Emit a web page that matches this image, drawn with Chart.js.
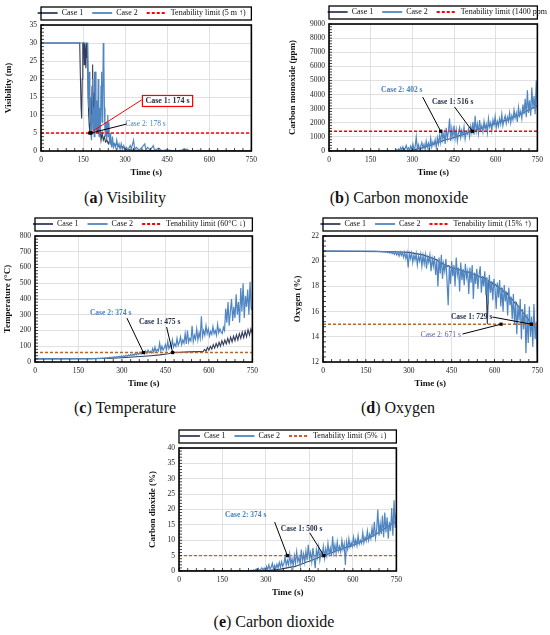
<!DOCTYPE html>
<html><head><meta charset="utf-8">
<script src="https://cdn.jsdelivr.net/npm/chart.js@4.4.1/dist/chart.umd.min.js"></script>
<style>
html,body{margin:0;padding:0;background:#fff;}
#wrap{position:relative;width:550px;height:635px;overflow:hidden;background:#fff;}
canvas{position:absolute;}
.cap{position:absolute;font-family:'Liberation Serif',serif;font-size:16px;color:#111;white-space:nowrap;transform:translate(-50%,-50%);}
</style></head><body>
<div id="wrap">
<canvas id="cA" width="262" height="181" style="left:0px;top:0px;width:262px;height:181px"></canvas>
<canvas id="cB" width="263" height="182" style="left:285px;top:-1px;width:263px;height:182px"></canvas>
<canvas id="cC" width="263" height="181" style="left:0px;top:211px;width:263px;height:181px"></canvas>
<canvas id="cD" width="263" height="181" style="left:285px;top:211px;width:263px;height:181px"></canvas>
<canvas id="cE" width="267" height="178" style="left:140px;top:423px;width:267px;height:178px"></canvas>
<div class="cap" style="left:125px;top:198px">(<b>a</b>) Visibility</div>
<div class="cap" style="left:399px;top:198px">(<b>b</b>) Carbon monoxide</div>
<div class="cap" style="left:125px;top:408px">(<b>c</b>) Temperature</div>
<div class="cap" style="left:398px;top:408px">(<b>d</b>) Oxygen</div>
<div class="cap" style="left:274px;top:622px">(<b>e</b>) Carbon dioxide</div>
</div>
<script>
// ---------- tick labels ----------
const timeTicks = [0,150,300,450,600,750];
const visTicks = [0,5,10,15,20,25,30,35];
const coTicks = [0,1000,2000,3000,4000,5000,6000,7000,8000,9000];
const tempTicks = [0,100,200,300,400,500,600,700,800];
const o2Ticks = [12,14,16,18,20,22];
const co2Ticks = [0,5,10,15,20,25,30,35,40];

// ---------- tenability limits ----------
const limitVis = 5, limitCO = 1400, limitTemp = 60, limitO2 = 15, limitCO2 = 5;

// ---------- (a) Visibility (m) ----------
const visCase1T = [0,138,140,143,145,147,149,152,154,156,158,160,162,164,166,168,170,172,174,176,178,180,182,184,186,188,190,192,194,196,198,200,202,205,208,211,214,218,222,226,230,235,240,245,250,255,260,270,280,290,300,320,350,400,450,750];
const visCase1  = [30,30,22,12,9,20,30,30,24,30,28,23,30,26,30,15,10,7,5,8,14,10,18,24,12,8,16,22,10,6,12,9,5,8,4,6,3,5,3,4,2.5,3,2,3,2,2.5,1.5,2,1,1.2,0.5,0.3,0.2,0.1,0,0];
const visCase2T = [0,166,168,170,172,174,176,178,180,182,184,186,188,190,192,194,196,198,200,202,204,206,208,210,212,214,216,218,220,222,224,226,228,230,232,234,236,238,240,242,244,246,248,250,252,255,258,262,266,270,274,278,282,286,290,295,300,305,310,318,322,330,334,340,350,360,370,374,380,390,400,405,420,430,450,480,520,530,560,600,650,700,750];
const visCase2  = [30,30,18,12,22,8,15,5,3,10,20,6,12,4,15,22,8,5,14,6,20,9,4,12,6,18,22,8,12,30,25,12,6,4,8,3,7,10,4,8,3,2,5,2,1,4,1,2,1,3,1,2,0.5,2,0.5,1.5,0.5,1,0.3,1.5,0.5,3,0.5,1,0.3,1,2,0.3,1,0.3,1.5,0.2,0.8,0.1,0.3,0,0.5,0,0.2,0,0.1,0,0];

// ---------- (b) Carbon monoxide (ppm) ----------
const coCase1T = [0,280,300,320,340,360,380,400,420,440,460,480,500,516,540,560,580,600,620,640,660,680,700,720,740,750];
const coCase1  = [0,0,60,150,250,380,520,650,800,880,1020,1150,1290,1400,1550,1700,1820,1950,2080,2200,2380,2500,2720,2900,3120,3200];
const coCase2LeadT = [0,234], coCase2Lead = [0,0];
const coCase2Start = 238, coCase2Step = 4;
const coCase2 = [
 20,80,10,150,40,250,60,300,30,180,400,90,220,50,350,
 120,500,80,300,1000,150,450,60,350,600,200,480,100,
 700,250,550,150,900,300,650,420,800,250,950,500,1100,
 600,1500,800,1300,500,1650,900,1400,2300,700,1600,1000,1800,
 900,1500,700,1300,1650,950,1450,1100,1700,850,1350,1200,1550,
 1000,1750,1300,2050,1150,2500,1400,1900,1250,2200,1500,1800,1350,
 2100,1550,1900,1300,2300,1700,2000,1450,2200,1850,2450,1650,2100,
 1750,2300,1900,2600,1800,2200,2500,1950,2400,2100,2700,2000,2500,
 2200,2900,2350,2700,2050,3100,2500,2800,2300,3300,2600,3700,2400,
 4300,2700,3600,2500,4500,3000,3900,2600,5000,2900];

// ---------- (c) Temperature (°C) ----------
const tempCase1LeadT = [0,250,300,350,400,430,460,475,500,530,560];
const tempCase1Lead  = [20,22,27,33,40,45,52,60,62,64,66];
const tempCase1Start = 580, tempCase1Step = 5;
const tempCase1 = [66,80,68,92,75,100,82,110,88,118,95,125,100,135,108,140,115,150,120,158,128,165,135,172,140,180,150,190,155,195,160,205,170,210,180];
const tempCase2LeadT = [0,194], tempCase2Lead = [20,20];
const tempCase2Start = 198, tempCase2Step = 4;
const tempCase2 = [
 20,22,21,23,22,24,22,25,23,26,24,27,25,28,26,30,27,31,28,33,29,35,30,36,32,
 38,33,40,35,42,36,45,38,48,40,50,42,55,
 45,58,48,62,50,55,65,52,70,56,75,58,68,
 60,85,62,95,66,80,70,120,72,100,75,90,110,
 78,130,85,105,90,140,95,115,100,150,105,125,160,
 110,140,120,180,115,200,125,150,135,230,130,170,145,
 210,140,185,150,290,160,200,170,230,180,210,165,195,
 175,225,180,200,170,240,185,210,190,180,220,200,340,
 250,380,230,320,400,260,350,280,430,300,380,250,470,
 320,500,280,420,350,460,300,510,340,330];

// ---------- (d) Oxygen (%) ----------
const o2Case1LeadT = [0,250,300,350,400], o2Case1Lead = [20.8,20.75,20.7,20.5,20.1];
const o2Case1Start = 405, o2Case1Step = 5;
const o2Case1 = [
 19.95,19.85,19.9,19.75,19.7,19.75,19.6,19.65,19.5,19.55,
 19.4,19.45,19.35,19.4,19.3,19.35,19.2,19.25,19.15,19.2,
 19.1,19.15,19.0,19.1,18.95,19.0,18.85,18.9,18.75,18.8,
 18.7,18.75,18.55,18.65,15.0,18.45,18.3,18.35,18.15,18.2,
 18.1,17.95,18.0,17.8,17.85,17.6,17.65,17.4,17.45,17.2,
 17.1,17.0,16.9,16.7,16.75,16.5,16.4,16.2,16.1,15.9,
 15.8,15.6,15.5,15.3,15.1,15.0,14.9,14.8,14.7,14.6];
const o2Case2LeadT = [0,178], o2Case2Lead = [20.8,20.8];
const o2Case2Start = 182, o2Case2Step = 4;
const o2Case2 = [
 20.8,20.78,20.8,20.76,20.79,20.74,20.78,20.72,20.77,20.7,20.76,20.68,20.75,20.65,20.74,20.6,20.72,
 20.55,20.75,20.5,20.7,20.4,20.72,20.45,20.68,20.3,20.7,20.2,20.65,19.5,
 20.6,20.2,20.65,19.9,20.5,20.1,20.6,19.7,20.4,20.0,20.55,19.6,20.45,
 19.8,20.5,19.4,20.3,19.9,20.5,19.2,20.2,19.6,20.4,18.9,20.1,18.0,
 20.3,19.0,20.5,18.6,19.8,19.2,20.2,18.4,16.5,19.6,18.2,20.0,18.8,
 19.7,18.0,20.3,18.9,19.5,17.6,19.9,18.5,19.4,18.1,19.8,18.7,19.2,
 17.4,19.5,18.3,19.7,17.0,19.1,18.2,19.4,17.8,18.9,19.6,17.5,18.8,
 18.0,19.2,17.3,18.7,16.6,18.9,17.5,18.4,16.9,18.6,17.8,16.2,18.3,
 17.1,18.5,16.4,17.9,16.0,18.1,16.8,17.6,15.7,17.9,16.5,17.2,15.4,
 17.4,15.0,16.8,14.2,16.5,15.3,17.0,13.8,16.2,14.6,16.6,12.7,15.8,
 13.5,16.4,14.0,15.6,13.2,16.6,13.8,15.2,12.0];

// ---------- (e) Carbon dioxide (%) ----------
const co2Case1LeadT = [0,300,350,400], co2Case1Lead = [0,0.1,0.6,1.5];
const co2Case1Start = 410, co2Case1Step = 10;
const co2Case1 = [1.8,2.2,2.5,2.9,3.2,3.6,3.9,4.3,4.7,5.0,5.4,5.8,6.0,6.5,6.8,7.0,7.5,7.8,8.0,8.4,8.8,9.2,9.6,10.0,10.5,11.0,11.5,12.0,12.6,13.2,13.8,14.5,15.0,15.6,16.2];
const co2Case2LeadT = [0,242], co2Case2Lead = [0,0];
const co2Case2Start = 246, co2Case2Step = 4;
const co2Case2 = [
 0.1,0.3,0.05,0.4,0.1,0.6,0.2,0.8,0.1,0.5,1.0,0.3,0.9,
 0.2,1.5,0.4,2.0,0.6,1.2,2.5,0.5,1.8,0.8,2.2,1.0,2.8,
 1.2,3.0,1.5,2.4,4.7,1.8,3.5,2.0,5.5,2.2,4.0,1.6,5.0,
 2.5,6.3,3.0,4.5,2.0,7.0,3.2,5.5,2.8,6.5,3.5,8.5,4.0,
 6.0,3.0,7.5,4.2,0.9,6.8,4.5,7.8,3.5,6.2,5.0,8.0,4.2,
 7.2,5.0,9.0,5.5,7.5,4.8,11.3,6.0,8.5,5.8,9.5,6.5,8.0,
 6.2,10.0,7.0,8.8,2.0,9.5,7.2,10.5,7.8,9.2,8.0,11.0,8.5,
 10.2,8.2,11.5,8.8,10.0,9.0,12.5,9.2,11.0,9.8,13.0,10.0,12.0,
 10.5,14.0,11.0,16.0,10.8,13.5,20.0,11.5,15.5,12.0,18.0,11.0,19.0,
 12.5,17.5,10.5,16.0,13.0,20.5,11.5,23.0,14.0,19.0];

// ---------- helpers ----------
function pts(leadT, leadV, start, step, vals){
  const out = leadT.map((t,i)=>({x:t, y:leadV[i]}));
  (vals||[]).forEach((v,i)=>out.push({x:start+i*step, y:v}));
  return out;
}
const SERIF = "'Liberation Serif', 'Times New Roman', serif";
const C1 = '#353E5C', C2 = '#4F86C2';

function makeChart(id, cfg){
  const deco = {
    id: 'deco',
    beforeUpdate(chart){
      const lg = chart.legend;
      if (lg && !lg._patched){
        const f = lg.fit;
        lg.fit = function(){ f.call(this); this.height = 25; };
        lg._patched = true;
      }
    },
    afterLayout(chart){
      const lg = chart.legend, ca = chart.chartArea;
      if (!lg) return;
      const p = lg.options.labels.padding;
      const cx = (ca.left + ca.right)/2 + (cfg.legendDx||0);
      lg.left = cx - 400 - p/2; lg.right = cx + 400 - p/2;
    },
    afterDatasetsDraw(chart){
      const ctx = chart.ctx, ca = chart.chartArea;
      const xs = chart.scales.x, ys = chart.scales.y;
      ctx.save();
      // minor ticks
      ctx.strokeStyle = '#111'; ctx.lineWidth = 0.8;
      ctx.beginPath();
      for (let t = 0; t <= 750; t += 30){
        const px = xs.getPixelForValue(t);
        ctx.moveTo(px, ca.bottom); ctx.lineTo(px, ca.bottom - 3);
      }
      for (let v = cfg.ymin; v <= cfg.ymax + 1e-9; v += cfg.yminor){
        const py = ys.getPixelForValue(v);
        ctx.moveTo(ca.left, py); ctx.lineTo(ca.left + 3, py);
      }
      ctx.stroke();
      // border
      ctx.strokeStyle = '#000'; ctx.lineWidth = 1.6;
      ctx.strokeRect(ca.left, ca.top, ca.right - ca.left, ca.bottom - ca.top);
      // annotations
      cfg.anno.forEach(a => {
        const x0 = xs.getPixelForValue(a.lx), y0 = ys.getPixelForValue(a.ly);
        const x1 = xs.getPixelForValue(a.px), y1 = ys.getPixelForValue(a.py);
        ctx.strokeStyle = a.line || '#000'; ctx.lineWidth = 1;
        ctx.beginPath(); ctx.moveTo(x0, y0); ctx.lineTo(x1, y1); ctx.stroke();
        ctx.fillStyle = '#000';
        ctx.fillRect(x1 - 1.6, y1 - 1.6, 3.2, 3.2);
        const tx = xs.getPixelForValue(a.tx), ty = ys.getPixelForValue(a.ty);
        ctx.font = (a.bold ? 'bold ' : '') + a.size + 'px ' + SERIF;
        const w = ctx.measureText(a.text).width;
        if (a.box){
          ctx.fillStyle = '#fff';
          ctx.fillRect(tx - w/2 - 3, ty - 5.5, w + 6, 11);
          ctx.strokeStyle = a.box; ctx.lineWidth = 1.2;
          ctx.strokeRect(tx - w/2 - 3, ty - 5.5, w + 6, 11);
        }
        ctx.fillStyle = a.color; ctx.textAlign = 'center'; ctx.textBaseline = 'middle';
        ctx.fillText(a.text, tx, ty);
      });
      ctx.restore();
    },
    afterDraw(chart){
      const ctx = chart.ctx, ca = chart.chartArea;
      ctx.save();
      ctx.strokeStyle = '#000'; ctx.lineWidth = 1.3;
      ctx.strokeRect(ca.left, ca.top - 18, ca.right - ca.left, 13);
      ctx.restore();
    }
  };
  return new Chart(document.getElementById(id), {
    type: 'line',
    data: { datasets: [
      { label: 'Case 1', data: cfg.c1, borderColor: C1, borderWidth: 1.1, pointRadius: 0, order: 2 },
      { label: 'Case 2', data: cfg.c2, borderColor: C2, borderWidth: 1.2, pointRadius: 0, order: 1 },
      { label: cfg.limLabel, data: [{x:0,y:cfg.lim},{x:750,y:cfg.lim}], borderColor: cfg.limColor,
        legendColor: cfg.limLegend || cfg.limColor, borderDash: [3,2], borderWidth: 1.4, pointRadius: 0, order: 0 }
    ]},
    options: {
      responsive: false, animation: false, events: [],
      layout: { padding: { left: 0, right: 10, top: 0, bottom: 0 } },
      plugins: {
        tooltip: { enabled: false },
        legend: {
          display: true, position: 'top',
          labels: {
            font: { family: SERIF, size: 8 }, color: '#111', padding: 9,
            usePointStyle: true, pointStyle: 'line', pointStyleWidth: 20,
            sort: (a, b) => a.datasetIndex - b.datasetIndex,
            generateLabels(chart){
              const items = Chart.defaults.plugins.legend.labels.generateLabels(chart);
              items.forEach(it => {
                const ds = chart.data.datasets[it.datasetIndex];
                it.strokeStyle = ds.legendColor || ds.borderColor;
                it.lineWidth = 1.8;
                it.lineDash = ds.borderDash || [];
              });
              return items;
            }
          }
        }
      },
      scales: {
        x: {
          type: 'linear', min: 0, max: 750,
          afterBuildTicks: s => { s.ticks = timeTicks.map(v => ({ value: v })); },
          afterFit: s => { s.height = 30; },
          grid: { color: '#D9D9D9', lineWidth: 0.8, drawTicks: false },
          border: { display: false },
          ticks: { font: { family: SERIF, size: 7.5 }, color: '#222', padding: 5, maxRotation: 0, autoSkip: false,
                   callback: v => String(v) },
          title: { display: true, text: 'Time (s)', color: '#111',
                   font: { family: SERIF, size: 9, weight: 'bold', lineHeight: 1.2 }, padding: { top: 0, bottom: 2.6 } }
        },
        y: {
          type: 'linear', min: cfg.ymin, max: cfg.ymax,
          afterBuildTicks: s => { s.ticks = cfg.yticks.map(v => ({ value: v })); },
          afterFit: s => { s.width = cfg.yW; },
          grid: { color: '#D9D9D9', lineWidth: 0.8, drawTicks: false },
          border: { display: false },
          ticks: { font: { family: SERIF, size: 7.5 }, color: '#222', padding: 4, autoSkip: false,
                   callback: v => String(v) },
          title: { display: true, text: cfg.ytitle, color: '#111',
                   font: { family: SERIF, size: 9, weight: 'bold', lineHeight: 1.2 }, padding: { top: cfg.ytp, bottom: 0 } }
        }
      }
    },
    plugins: [deco]
  });
}

const DARK = '#1F2A44', BLUE = '#4A7EBB';

makeChart('cA', {
  c1: pts(visCase1T, visCase1), c2: pts(visCase2T, visCase2),
  lim: limitVis, limLabel: 'Tenability limit (5 m \u2191)', limColor: '#FF0000',
  ymin: 0, ymax: 35, yminor: 1, yticks: visTicks, yW: 41, ytp: 3.6, ytitle: 'Visibility (m)',
  anno: [
    { text: 'Case 1: 174 s', color: DARK, bold: true, size: 8, tx: 451, ty: 13.9, lx: 359, ly: 14.2, px: 174, py: 5, line: '#FF0000', box: '#FF0000' },
    { text: 'Case 2: 178 s', color: BLUE, bold: false, size: 7.5, tx: 373, ty: 7.5, lx: 306, ly: 7.5, px: 178, py: 5, line: '#000' }
  ]
});
makeChart('cB', {
  c1: pts(coCase1T, coCase1), c2: pts(coCase2LeadT, coCase2Lead, coCase2Start, coCase2Step, coCase2),
  lim: limitCO, limLabel: 'Tenability limit (1400 ppm \u2193)', limColor: '#FF0000', legendDx: 13,
  ymin: 0, ymax: 9000, yminor: 200, yticks: coTicks, yW: 44, ytp: 2.6, ytitle: 'Carbon monoxide (ppm)',
  anno: [
    { text: 'Case 2: 402 s', color: BLUE, bold: true, size: 7.5, tx: 262, ty: 4323, lx: 337, ly: 3827, px: 402, py: 1400 },
    { text: 'Case 1: 516 s', color: DARK, bold: true, size: 7.5, tx: 445, ty: 3472, lx: 452, ly: 3118, px: 516, py: 1400 }
  ]
});
makeChart('cC', {
  c1: pts(tempCase1LeadT, tempCase1Lead, tempCase1Start, tempCase1Step, tempCase1),
  c2: pts(tempCase2LeadT, tempCase2Lead, tempCase2Start, tempCase2Step, tempCase2),
  lim: limitTemp, limLabel: 'Tenability limit (60\u00B0C \u2193)', limColor: '#B8662A', limLegend: '#FF0000',
  ymin: 0, ymax: 800, yminor: 20, yticks: tempTicks, yW: 35, ytp: 2.6, ytitle: 'Temperature (\u00B0C)',
  anno: [
    { text: 'Case 2: 374 s', color: BLUE, bold: true, size: 7.5, tx: 261, ty: 311, lx: 317, ly: 279, px: 374, py: 60 },
    { text: 'Case 1: 475 s', color: DARK, bold: true, size: 7.5, tx: 430, ty: 254, lx: 454, ly: 222, px: 475, py: 60 }
  ]
});
makeChart('cD', {
  c1: pts(o2Case1LeadT, o2Case1Lead, o2Case1Start, o2Case1Step, o2Case1),
  c2: pts(o2Case2LeadT, o2Case2Lead, o2Case2Start, o2Case2Step, o2Case2),
  lim: limitO2, limLabel: 'Tenability limit (15% \u2191)', limColor: '#B8662A', limLegend: '#FF0000',
  ymin: 12, ymax: 22, yminor: 0.4, yticks: o2Ticks, yW: 38, ytp: 7.6, ytitle: 'Oxygen (%)',
  anno: [
    { text: 'Case 1: 729 s', color: DARK, bold: true, size: 7.5, tx: 520, ty: 15.57, lx: 593, ly: 15.57, px: 729, py: 15 },
    { text: 'Case 2: 671 s', color: '#5A5FA8', bold: false, size: 7.5, tx: 412, ty: 14.14, lx: 488, ly: 14.22, px: 623, py: 15 }
  ]
});
makeChart('cE', {
  c1: pts(co2Case1LeadT, co2Case1Lead, co2Case1Start, co2Case1Step, co2Case1),
  c2: pts(co2Case2LeadT, co2Case2Lead, co2Case2Start, co2Case2Step, co2Case2),
  lim: limitCO2, limLabel: 'Tenability limit (5% \u2193)', limColor: '#CC5A2A',
  ymin: 0, ymax: 40, yminor: 1, yticks: co2Ticks, yW: 39, ytp: 7.6, ytitle: 'Carbon dioxide (%)',
  anno: [
    { text: 'Case 2: 374 s', color: BLUE, bold: true, size: 7.5, tx: 230, ty: 18.2, lx: 330, ly: 15.9, px: 374, py: 5 },
    { text: 'Case 1: 500 s', color: DARK, bold: true, size: 7.5, tx: 423, ty: 13.7, lx: 451, ly: 12.4, px: 500, py: 5 }
  ]
});
</script>
</body></html>
